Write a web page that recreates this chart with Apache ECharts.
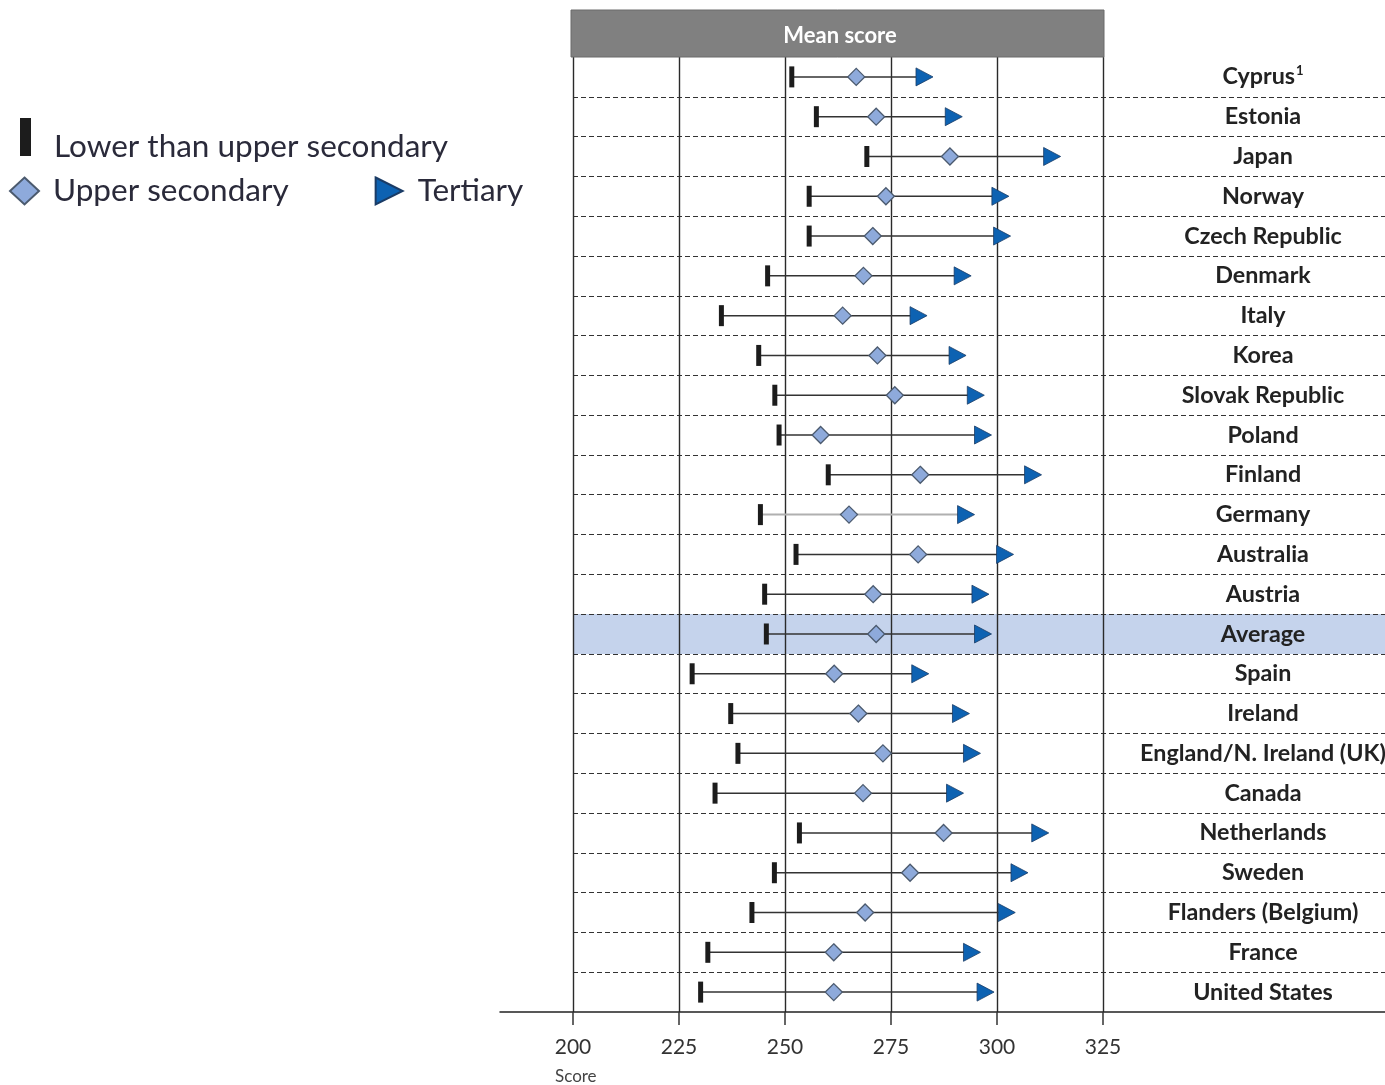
<!DOCTYPE html>
<html>
<head>
<meta charset="utf-8">
<script src="https://cdn.jsdelivr.net/npm/echarts@6/dist/echarts.min.js"></script>
<style>
html,body{margin:0;padding:0;background:#fff;}
#chart{width:1385px;height:1085px;}
</style>
</head>
<body>
<div id="chart"></div>
<script>
const categories = ['Cyprus','Estonia','Japan','Norway','Czech Republic','Denmark','Italy','Korea','Slovak Republic','Poland','Finland','Germany','Australia','Austria','Average','Spain','Ireland','England/N. Ireland (UK)','Canada','Netherlands','Sweden','Flanders (Belgium)','France','United States'];
const lowerSec = [251.6,257.4,269.3,255.7,255.7,245.9,235.0,243.8,247.6,248.6,260.2,244.2,252.6,245.2,245.6,228.1,237.2,238.9,233.5,253.4,247.5,242.2,231.8,230.1];
const upperSec = [266.8,271.5,288.9,273.8,270.7,268.5,263.6,271.8,275.9,258.4,281.9,265.1,281.4,270.8,271.5,261.6,267.3,273.1,268.4,287.4,279.5,268.9,261.5,261.5];
const tertiary = [282.9,289.8,313.0,300.8,301.2,291.9,281.5,290.7,295.0,296.7,308.5,292.7,301.9,296.1,296.7,281.9,291.5,294.1,290.1,310.2,305.3,302.3,294.1,297.3];
const xTicks = [200,225,250,275,300,325];
const greyRows = ['Germany'];
const highlightRow = 'Average';

const FONT = 'Lato, "Open Sans", sans-serif';
const triPath = 'path://M0,0L16,8L0,16Z';
const barLegendPath = 'path://M0,0L11,0L11,38L0,38Z M0,58L0,58.01';

const chart = echarts.init(document.getElementById('chart'), null, {renderer:'canvas'});

const rangeData = categories.map((c,i)=>[lowerSec[i], tertiary[i], i, greyRows.includes(c)?1:0]);

const option = {
  animation: false,
  backgroundColor: '#fff',
  title: [{
    text: 'Score', left: 550, top: 1063,
    textStyle: {fontSize: 17, fontWeight: 'normal', color: '#444', fontFamily: FONT}
  }],
  graphic: [
    {type:'rect', shape:{x:571, y:10, width:533, height:47}, style:{fill:'#808080', stroke:'#6a6a6a', lineWidth:1}, z:10},
    {type:'text', x:840, y:36, style:{text:'Mean score', fill:'#fff', font:'bold 22px '+FONT, textAlign:'center', textVerticalAlign:'middle'}, z:11}
  ],
  legend: [
    {
      data: [{name:'Lower than upper secondary', icon: barLegendPath}],
      left: 15, top: 113, itemWidth: 11, itemHeight: 58, orient:'horizontal',
      selectedMode: false,
      textStyle: {fontSize: 31.5, color: '#2a2a3a', fontFamily: FONT, padding:[0,0,0,18]}
    },
    {
      data: [{name:'Upper secondary', icon:'diamond'}, {name:'Tertiary', icon: triPath}],
      left: 4, top: 170, itemWidth: 29, itemHeight: 27, itemGap: 86,
      selectedMode: false,
      textStyle: {fontSize: 31.5, color: '#2a2a3a', fontFamily: FONT, padding:[0,0,0,9]}
    }
  ],
  grid: [
    {left: 573, right: 282, top: 57, bottom: 73, outerBoundsMode: 'none'},
    {left: 573, right: 0, top: 57, bottom: 73, outerBoundsMode: 'none'},
    {left: 500, right: 0, top: 57, bottom: 73, outerBoundsMode: 'none'}
  ],
  xAxis: [
    {
      gridIndex: 0, type: 'value', min: 200, max: 325, interval: 25,
      axisLine: {show: false},
      axisTick: {show: true, length: 13, lineStyle: {color: '#333', width: 1.5}},
      axisLabel: {fontSize: 21, color: '#333', fontFamily: FONT, margin: 25},
      splitLine: {show: true, lineStyle: {color: '#2a2a2a', width: 1.4}}
    },
    {gridIndex: 1, type: 'value', min: 0, max: 1, show: false},
    {
      gridIndex: 2, type: 'value', min: 0, max: 1,
      axisLine: {show: true, onZero: false, lineStyle: {color: '#222', width: 1.5}},
      axisTick: {show: false}, axisLabel: {show: false}, splitLine: {show: false}
    }
  ],
  yAxis: [
    {gridIndex: 0, type: 'category', data: categories, inverse: true, show: false},
    {
      gridIndex: 1, type: 'category', data: categories, inverse: true, position: 'left',
      axisLine: {show: false}, axisTick: {show: false},
      axisLabel: {
        inside: true, margin: 690, align: 'center',
        fontSize: 23.3, fontWeight: 'bold', color: '#222', fontFamily: FONT,
        formatter: v => v === 'Cyprus' ? 'Cyprus{s|1}' : v,
        rich: {s: {fontSize: 13, fontWeight: 'bold', color: '#222', fontFamily: FONT, padding: [0,0,12,1]}}
      },
      splitLine: {show: true, showMinLine: false, showMaxLine: false, lineStyle: {color: '#333', width: 1.2, type: [5,3]}}
    },
    {gridIndex: 2, type: 'value', show: false}
  ],
  series: [
    {
      name: 'band', type: 'bar', xAxisIndex: 1, yAxisIndex: 1,
      data: categories.map(c => c === highlightRow ? 1 : '-'),
      barWidth: '100%', itemStyle: {color: '#c5d3ec'}, z: -5, silent: true
    },
    {
      name: 'range', type: 'custom', xAxisIndex: 0, yAxisIndex: 0,
      data: rangeData,
      encode: {x: [0,1], y: 2},
      renderItem: function(params, api) {
        const p1 = api.coord([api.value(0), api.value(2)]);
        const p2 = api.coord([api.value(1), api.value(2)]);
        const grey = api.value(3) === 1;
        return {type: 'line', shape: {x1: p1[0], y1: p1[1], x2: p2[0], y2: p2[1]},
          style: {stroke: grey ? '#b0b0b0' : '#333', lineWidth: grey ? 2 : 1.5}};
      },
      z: 3, silent: true
    },
    {
      name: 'Lower than upper secondary', type: 'scatter', xAxisIndex: 0, yAxisIndex: 0,
      data: lowerSec.map((v,i)=>[v,i]),
      symbol: 'rect', symbolSize: [5, 21],
      itemStyle: {color: '#1c1c1c', opacity: 1}, z: 4
    },
    {
      name: 'Upper secondary', type: 'scatter', xAxisIndex: 0, yAxisIndex: 0,
      data: upperSec.map((v,i)=>[v,i]),
      symbol: 'diamond', symbolSize: [17, 17],
      itemStyle: {color: '#8eaadb', borderColor: '#4b5a6e', borderWidth: 1.3, opacity: 1}, z: 5
    },
    {
      name: 'Tertiary', type: 'scatter', xAxisIndex: 0, yAxisIndex: 0,
      data: tertiary.map((v,i)=>[v,i]),
      symbol: triPath, symbolSize: [17, 18],
      itemStyle: {color: '#0d62b2', borderColor: '#1b3c66', borderWidth: 0.8, opacity: 1}, z: 5
    }
  ]
};
chart.setOption(option);
</script>
</body>
</html>
